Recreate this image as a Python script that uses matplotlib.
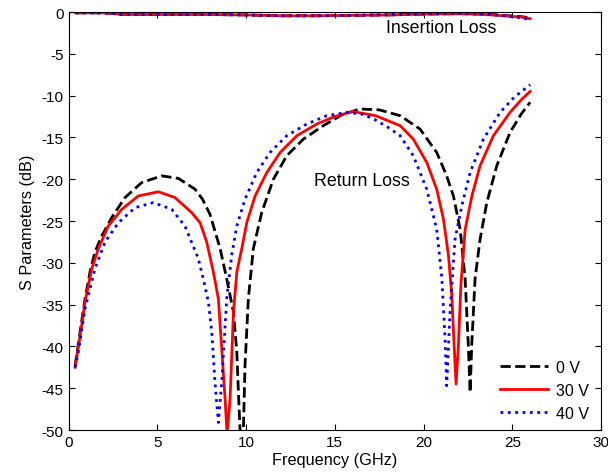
import numpy as np
import matplotlib.pyplot as plt

plt.rcParams['font.family'] = ['Liberation Sans', 'DejaVu Sans']
plt.rcParams['axes.unicode_minus'] = False

# Return loss (dB)
f_0v = [0.37, 0.65, 0.93, 1.21, 1.49, 1.87, 2.43, 3.18, 4.12, 5.25, 6.19, 7.13, 7.55, 7.97, 8.54, 8.91,
        9.29, 9.48, 9.57, 9.66, 9.75, 9.85, 9.94, 10.13, 10.41, 10.88, 11.54, 12.29, 13.23, 14.35, 15.4,
        16.4, 17.5, 18.68, 19.8, 20.74, 21.3, 21.68, 22.06, 22.34, 22.52, 22.62, 22.71, 22.9, 23.18, 23.56,
        24.12, 24.87, 25.5, 26.0]
s11_0v = [-42.3, -38.3, -34.3, -31.1, -28.7, -26.8, -24.6, -22.2, -20.4, -19.6, -19.9, -21.2, -22.4, -24.2,
          -28.3, -31.9, -35.9, -40.7, -45.5, -49.9, -53, -50, -42.3, -34.3, -28.3, -24.0, -20.0, -17.2,
          -15.2, -13.6, -12.3, -11.6, -11.7, -12.4, -14.0, -16.8, -19.6, -22.0, -26.0, -31.9, -39.9, -45.5,
          -39.9, -31.9, -27.2, -22.8, -18.4, -14.4, -12.2, -10.8]

f_30v = [0.37, 0.65, 0.93, 1.31, 1.68, 2.24, 3.0, 3.93, 5.06, 6.0, 6.94, 7.41, 7.78, 8.16, 8.44, 8.63,
         8.82, 8.93, 9.1, 9.29, 9.48, 9.76, 10.04, 10.51, 11.17, 11.92, 12.86, 13.98, 15.0, 16.0, 17.3,
         18.68, 19.42, 20.18, 20.74, 21.12, 21.4, 21.59, 21.72, 21.83, 21.96, 22.1, 22.34, 22.72, 23.18,
         23.93, 24.87, 25.5, 26.0]
s11_30v = [-42.5, -38.8, -34.7, -30.7, -28.3, -25.6, -23.6, -22.0, -21.5, -22.2, -24.0, -25.2, -27.5,
           -31.1, -34.3, -40.3, -46.3, -50.5, -46.3, -35.9, -31.1, -28.3, -25.2, -22.0, -19.2, -16.8,
           -14.8, -13.4, -12.5, -11.9, -12.4, -13.6, -15.2, -18.0, -21.2, -24.8, -29.1, -33.9, -39.9,
           -44.5, -39.9, -32.7, -26.0, -22.0, -18.4, -14.8, -12.0, -10.5, -9.5]

f_40v = [0.37, 0.55, 0.93, 1.49, 2.06, 2.81, 3.75, 4.78, 5.81, 6.56, 7.31, 7.6, 7.88, 8.07, 8.25, 8.44,
         8.63, 8.91, 9.19, 9.48, 9.94, 10.6, 11.35, 12.29, 13.42, 14.55, 15.7, 16.5, 17.2, 18.0, 18.68,
         19.42, 20.18, 20.74, 21.03, 21.21, 21.3, 21.49, 21.77, 22.15, 22.62, 23.37, 24.31, 25.1, 26.0]
s11_40v = [-42.5, -40.7, -35.5, -30.7, -27.5, -25.2, -23.4, -22.8, -23.6, -25.6, -29.5, -32.0, -34.7,
           -38.3, -44.3, -49.1, -44.3, -34.3, -29.1, -25.6, -22.4, -19.2, -16.8, -14.8, -13.4, -12.4,
           -12.0, -12.2, -12.8, -13.8, -14.8, -17.2, -21.2, -26.0, -31.9, -39.1, -44.7, -35.9, -27.2,
           -23.2, -19.2, -15.2, -12.0, -10.2, -8.7]

# Insertion loss (dB)
f_il = [0.4, 2.0, 2.6, 3.0, 5.0, 8.0, 10.0, 12.0, 14.0, 16.0, 18.0, 20.0, 22.0, 23.5, 24.5, 25.5, 26.0]
s21_0v = [-0.1, -0.1, -0.2, -0.3, -0.3, -0.3, -0.35, -0.45, -0.45, -0.4, -0.35, -0.25, -0.2, -0.25, -0.4, -0.55, -0.7]
s21_30v = [-0.1, -0.1, -0.2, -0.3, -0.3, -0.3, -0.35, -0.45, -0.45, -0.4, -0.35, -0.25, -0.2, -0.3, -0.45, -0.6, -0.8]
s21_40v = [-0.1, -0.1, -0.2, -0.3, -0.3, -0.3, -0.35, -0.45, -0.45, -0.4, -0.3, -0.2, -0.15, -0.25, -0.45, -0.7, -0.9]

fig = plt.figure(figsize=(6.08, 4.77), dpi=100)
ax = fig.add_axes([0.1127, 0.0964, 0.876, 0.8763])

l0, = ax.plot(f_0v, s11_0v, 'k--', lw=2, label='0 V')
l1, = ax.plot(f_30v, s11_30v, 'r-', lw=2, label='30 V')
l2, = ax.plot(f_40v, s11_40v, ':', color='#0000ff', lw=2, label='40 V')
ax.plot(f_il, s21_0v, 'k--', lw=2)
ax.plot(f_il, s21_30v, 'r-', lw=2)
ax.plot(f_il, s21_40v, ':', color='#0000ff', lw=2)

ax.text(21, -1.8, 'Insertion Loss', ha='center', va='center', fontsize=12.8)
ax.text(16.5, -20.1, 'Return Loss', ha='center', va='center', fontsize=12.8)

ax.set_xlim(0, 30)
ax.set_ylim(-50, 0)
ax.set_xticks(np.arange(0, 31, 5))
ax.set_yticks(np.arange(-50, 1, 5))
ax.tick_params(direction='in', top=True, right=True, labelsize=11, length=4)
ax.set_xlabel('Frequency (GHz)', fontsize=11.7, labelpad=2)
ax.set_ylabel('S Parameters (dB)', fontsize=11.7, labelpad=5)

ax.legend(handles=[l0, l1, l2], loc='lower right', frameon=False, fontsize=11.5,
          handlelength=3.0, handletextpad=0.5, labelspacing=0.5,
          bbox_to_anchor=(1.004, -0.012))

fig.savefig('out.png')
